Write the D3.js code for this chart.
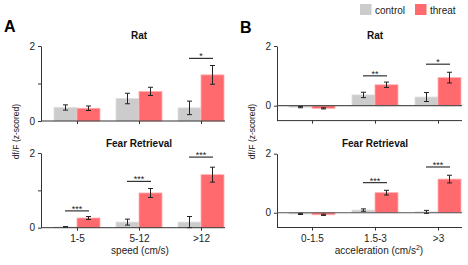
<!DOCTYPE html>
<html>
<head>
<meta charset="utf-8">
<script src="https://cdn.jsdelivr.net/npm/d3@7"></script>
<style>
  body { margin: 0; background: #fff; }
  svg { font-family: "Liberation Sans", Arial, sans-serif; }
  .axis path, .axis line { stroke: #333; }
  .axis text { font-size: 10px; fill: #222; }
</style>
</head>
<body>
<div id="chart"></div>
<script>
// ---- data ----
const series = ["control", "threat"];
const speedCats = ["1-5", "5-12", ">12"];
const accelCats = ["0-1.5", "1.5-3", ">3"];

// speed, Rat
const ratSpeedControl = [0.36, 0.60, 0.35];
const ratSpeedControlErr = [0.07, 0.14, 0.18];
const ratSpeedThreat = [0.34, 0.79, 1.23];
const ratSpeedThreatErr = [0.06, 0.11, 0.25];
const ratSpeedSig = [null, null, "*"];
const ratSpeedSigLevel = [null, null, 1.67];

// speed, Fear Retrieval
const fearSpeedControl = [0.02, 0.15, 0.15];
const fearSpeedControlErr = [0.01, 0.08, 0.15];
const fearSpeedThreat = [0.26, 0.93, 1.42];
const fearSpeedThreatErr = [0.04, 0.12, 0.2];
const fearSpeedSig = ["***", "***", "***"];
const fearSpeedSigLevel = [0.45, 1.24, 1.89];

// acceleration, Rat
const ratAccelControl = [-0.05, 0.36, 0.29];
const ratAccelControlErr = [0.02, 0.09, 0.15];
const ratAccelThreat = [-0.09, 0.70, 0.94];
const ratAccelThreatErr = [0.02, 0.09, 0.18];
const ratAccelSig = [null, "**", "*"];
const ratAccelSigLevel = [null, 1.0, 1.39];

// acceleration, Fear Retrieval
const fearAccelControl = [-0.04, 0.09, 0.03];
const fearAccelControlErr = [0.02, 0.04, 0.05];
const fearAccelThreat = [-0.07, 0.68, 1.14];
const fearAccelThreatErr = [0.02, 0.08, 0.13];
const fearAccelSig = [null, "***", "***"];
const fearAccelSigLevel = [null, 1.02, 1.55];

const colors = { control: "#cccccc", threat: "#fe6a6d" };
const strokes = { control: "#dedede", threat: "#ffb0b0" };

const W = 468, H = 265;
const svg = d3.select("#chart").append("svg")
    .attr("width", W)
    .attr("height", H);

/*
 * draw one small bar panel
 */
function drawPanel(p) {
    let g = svg.append("g");

    let y = d3.scaleLinear().domain(p.yDomain).range(p.yRange);
    let x = d3.scalePoint().domain(p.cats).range(p.centers);
    let xs = d3.scaleBand().domain(series).range([-23, 23]);

    let rows = p.cats.map((c, i) => ({
        cat: c,
        control: p.control[i], controlErr: p.controlErr[i],
        threat: p.threat[i], threatErr: p.threatErr[i],
        sig: p.sig[i], sigLevel: p.sigLevel[i]
    }));

    // y axis
    let yAxis = d3.axisLeft(y)
        .tickValues(p.yTicks)
        .tickSize(3)
        .tickSizeOuter(0)
        .tickFormat(d => (d === 0 || d === 2) ? d : "");
    g.append("g")
        .attr("class", "axis")
        .attr("transform", "translate(" + p.axisX + ",0)")
        .call(yAxis);

    // bars
    let bars = [];
    rows.forEach(r => series.forEach(s => bars.push({cat: r.cat, s: s, v: r[s], e: r[s + "Err"]})));

    g.selectAll("rect.bar")
        .data(bars)
        .enter()
        .append("rect")
        .attr("class", "bar")
        .attr("x", d => x(d.cat) + xs(d.s))
        .attr("width", xs.bandwidth())
        .attr("y", d => Math.min(y(d.v), y(0)))
        .attr("height", d => Math.abs(y(0) - y(d.v)))
        .attr("fill", d => colors[d.s])
        .attr("stroke", d => strokes[d.s])
        .attr("stroke-width", 0.8);

    // zero line when the domain goes below zero
    if (p.yDomain[0] < 0) {
        g.append("line")
            .attr("x1", p.axisX).attr("x2", p.axisEnd)
            .attr("y1", y(0)).attr("y2", y(0))
            .attr("stroke", "#555")
            .attr("stroke-width", 1.2);
    }

    // error bars
    let eb = g.selectAll("g.err")
        .data(bars)
        .enter()
        .append("g")
        .attr("class", "err")
        .attr("stroke", "#222")
        .attr("stroke-width", 1);
    eb.append("line")
        .attr("x1", d => x(d.cat) + xs(d.s) + xs.bandwidth() / 2)
        .attr("x2", d => x(d.cat) + xs(d.s) + xs.bandwidth() / 2)
        .attr("y1", d => y(d.v - d.e))
        .attr("y2", d => y(d.v + d.e));
    [-1, 1].forEach(k => {
        eb.append("line")
            .attr("x1", d => x(d.cat) + xs(d.s) + xs.bandwidth() / 2 - 2.5)
            .attr("x2", d => x(d.cat) + xs(d.s) + xs.bandwidth() / 2 + 2.5)
            .attr("y1", d => y(d.v + k * d.e))
            .attr("y2", d => y(d.v + k * d.e));
    });

    // x axis line and ticks
    let yBase = y(p.yDomain[0]);
    g.append("line")
        .attr("x1", p.axisX).attr("x2", p.axisEnd)
        .attr("y1", yBase).attr("y2", yBase)
        .attr("stroke", "#333");
    let xAxis = d3.axisBottom(x).tickSize(3).tickSizeOuter(0);
    if (!p.labels) xAxis.tickFormat("");
    g.append("g")
        .attr("class", "axis")
        .attr("transform", "translate(0," + yBase + ")")
        .call(xAxis)
        .call(a => a.select(".domain").remove())
        .call(a => a.selectAll("text").attr("y", 7.5));

    // significance markers
    let sg = g.selectAll("g.sig")
        .data(rows.filter(r => r.sig))
        .enter()
        .append("g")
        .attr("class", "sig");
    sg.append("line")
        .attr("x1", d => x(d.cat) - 12)
        .attr("x2", d => x(d.cat) + 12)
        .attr("y1", d => y(d.sigLevel))
        .attr("y2", d => y(d.sigLevel))
        .attr("stroke", "#333")
        .attr("stroke-width", 1.2);
    sg.append("text")
        .attr("x", d => x(d.cat))
        .attr("y", d => y(d.sigLevel) + 1)
        .attr("text-anchor", "middle")
        .style("font-size", "9px")
        .attr("fill", "#222")
        .text(d => d.sig);

    // title
    g.append("text")
        .attr("x", d3.mean(p.centers))
        .attr("y", p.titleY)
        .attr("text-anchor", "middle")
        .style("font-size", "10px")
        .style("font-weight", "bold")
        .attr("fill", "#111")
        .text(p.title);
}

drawPanel({
    cats: speedCats, control: ratSpeedControl, controlErr: ratSpeedControlErr,
    threat: ratSpeedThreat, threatErr: ratSpeedThreatErr, sig: ratSpeedSig, sigLevel: ratSpeedSigLevel,
    yDomain: [0, 2], yRange: [121, 46], yTicks: [0, 1, 2], centers: [77, 201],
    axisX: 41, axisEnd: 225, labels: false, title: "Rat", titleY: 38.5
});
drawPanel({
    cats: speedCats, control: fearSpeedControl, controlErr: fearSpeedControlErr,
    threat: fearSpeedThreat, threatErr: fearSpeedThreatErr, sig: fearSpeedSig, sigLevel: fearSpeedSigLevel,
    yDomain: [0, 2], yRange: [227.7, 153], yTicks: [0, 1, 2], centers: [77, 201],
    axisX: 41, axisEnd: 225, labels: true, title: "Fear Retrieval", titleY: 147
});
drawPanel({
    cats: accelCats, control: ratAccelControl, controlErr: ratAccelControlErr,
    threat: ratAccelThreat, threatErr: ratAccelThreatErr, sig: ratAccelSig, sigLevel: ratAccelSigLevel,
    yDomain: [-0.5, 2], yRange: [120.6, 46], yTicks: [0, 2], centers: [312, 438],
    axisX: 277, axisEnd: 462, labels: false, title: "Rat", titleY: 38.5
});
drawPanel({
    cats: accelCats, control: fearAccelControl, controlErr: fearAccelControlErr,
    threat: fearAccelThreat, threatErr: fearAccelThreatErr, sig: fearAccelSig, sigLevel: fearAccelSigLevel,
    yDomain: [-0.5, 2], yRange: [227.5, 153.7], yTicks: [0, 2], centers: [312, 438],
    axisX: 277, axisEnd: 462, labels: true, title: "Fear Retrieval", titleY: 147
});

// panel letters
svg.append("text").attr("x", 4).attr("y", 32)
    .style("font-size", "16px").style("font-weight", "bold").text("A");
svg.append("text").attr("x", 240).attr("y", 32.5)
    .style("font-size", "16px").style("font-weight", "bold").text("B");

// y labels
[19, 255].forEach(xp => {
    svg.append("text")
        .attr("transform", "translate(" + xp + ",131.5) rotate(-90)")
        .attr("text-anchor", "middle")
        .style("font-size", "8.5px")
        .attr("fill", "#222")
        .text("df/F (z-scored)");
});

// x labels
svg.append("text").attr("x", 140).attr("y", 254)
    .attr("text-anchor", "middle").style("font-size", "10px").attr("fill", "#222")
    .text("speed (cm/s)");
let acc = svg.append("text").attr("x", 379).attr("y", 254)
    .attr("text-anchor", "middle").style("font-size", "10px").attr("fill", "#222");
acc.append("tspan").text("acceleration (cm/s");
acc.append("tspan").attr("dy", -4).style("font-size", "7px").text("2");
acc.append("tspan").attr("dy", 4).text(")");

// legend
let leg = svg.append("g");
series.forEach((s, i) => {
    let lx = i === 0 ? 360 : 415;
    leg.append("rect").attr("x", lx).attr("y", 4).attr("width", 11.5).attr("height", 11)
        .attr("fill", colors[s]);
    leg.append("text").attr("x", lx + 15).attr("y", 14)
        .style("font-size", "10px").attr("fill", "#222").text(s);
});
</script>
</body>
</html>
